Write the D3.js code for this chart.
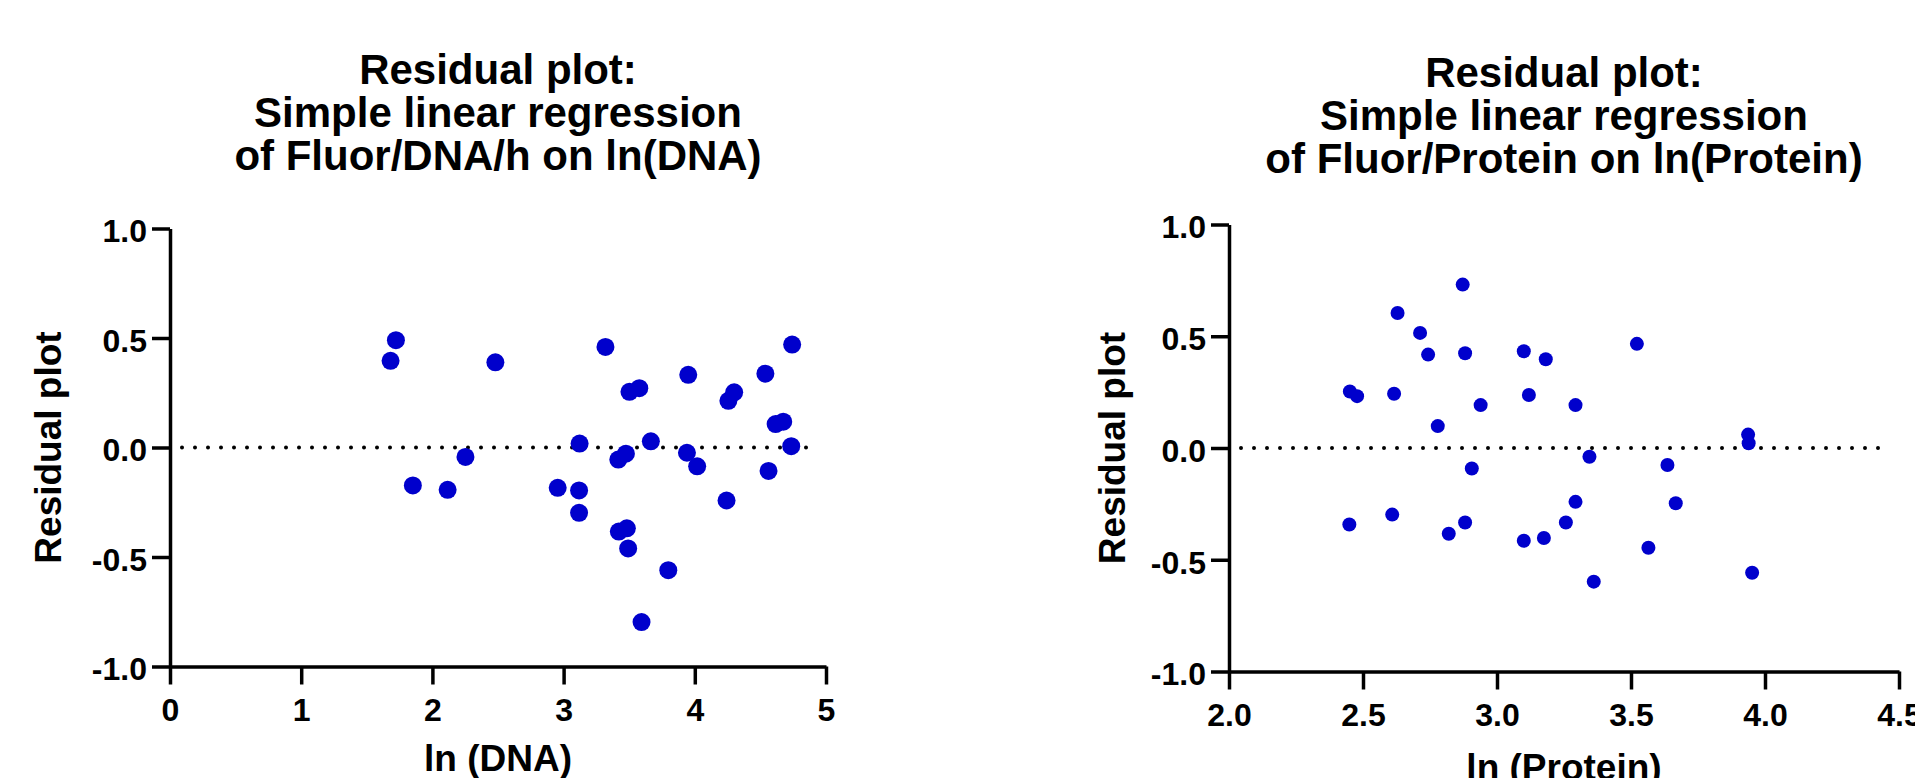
<!DOCTYPE html>
<html>
<head>
<meta charset="utf-8">
<script src="https://cdn.jsdelivr.net/npm/d3@7"></script>
<style>
  body { margin: 0; background: #fff; }
  svg { display: block; }
  text { font-family: "Liberation Sans", Arial, sans-serif; font-weight: bold; fill: #000; }
</style>
</head>
<body>
<script>

// left panel: residuals vs ln(DNA)
var dnaX = [1.681, 1.722, 1.851, 2.116, 2.252, 2.480, 2.955, 3.118, 3.118, 3.122, 3.319,
            3.421, 3.482, 3.492, 3.417, 3.475, 3.502, 3.577, 3.665, 3.594, 3.798, 3.950,
            3.940, 4.018, 4.242, 4.256, 4.300, 4.538, 4.562, 4.616, 4.674, 4.735, 4.742]
var dnaResid = [0.396, 0.490, -0.173, -0.193, -0.043, 0.389, -0.184, -0.196, -0.298, 0.018, 0.459,
                -0.384, -0.369, -0.461, -0.055, -0.028, 0.254, 0.271, 0.028, -0.797, -0.560, 0.332,
                -0.024, -0.086, -0.242, 0.213, 0.252, 0.337, -0.107, 0.107, 0.118, 0.006, 0.470]

// right panel: residuals vs ln(Protein)
var proteinX = [2.451, 2.478, 2.449, 2.616, 2.609, 2.629, 2.713, 2.743, 2.779, 2.820, 2.872,
                2.881, 2.881, 2.906, 2.939, 3.100, 3.100, 3.119, 3.175, 3.182, 3.257, 3.293,
                3.293, 3.345, 3.361, 3.522, 3.565, 3.636, 3.667, 3.937, 3.939, 3.952]
var proteinResid = [0.253, 0.232, -0.342, 0.243, -0.298, 0.604, 0.515, 0.418, 0.098, -0.384, 0.731,
                    0.424, -0.333, -0.092, 0.192, 0.433, -0.415, 0.237, -0.403, 0.397, -0.333, 0.192,
                    -0.241, -0.039, -0.598, 0.466, -0.446, -0.076, -0.247, 0.060, 0.021, -0.558]

// ticks and labels
var yTicks = [-1.0, -0.5, 0.0, 0.5, 1.0]
var dnaXTicks = [0, 1, 2, 3, 4, 5]
var proteinXTicks = [2.0, 2.5, 3.0, 3.5, 4.0, 4.5]
var dnaTitle = ["Residual plot:", "Simple linear regression", "of Fluor/DNA/h on ln(DNA)"]
var proteinTitle = ["Residual plot:", "Simple linear regression", "of Fluor/Protein on ln(Protein)"]

var width = 1915
var height = 778

var svg = d3.select("body").append("svg")
            .attr("width", width)
            .attr("height", height)

function drawPanel(opt) {
  var xs = opt.x, ys = opt.y

  var x = d3.scaleLinear().domain(opt.xDomain).range([opt.left, opt.right])
  var y = d3.scaleLinear().domain([-1, 1]).range([opt.bottom, opt.top])

  var g = svg.append("g")

  // title, three lines centred over the plot
  g.append("text")
    .attr("text-anchor", "middle")
    .style("font-size", "42px")
    .selectAll("tspan")
    .data(opt.title)
    .enter()
   .append("tspan")
    .attr("x", (opt.left + opt.right) / 2)
    .attr("y", function(d, i) {return opt.titleY + i * 43})
    .text(function(d) {return d})

  // zero line, dotted
  g.append("line")
    .attr("x1", x.range()[0] + 12)
    .attr("x2", x.range()[1] - 12)
    .attr("y1", y(0))
    .attr("y2", y(0))
    .attr("stroke", "#000")
    .attr("stroke-width", 4)
    .attr("stroke-linecap", "round")
    .attr("stroke-dasharray", "0 13")

  var yAxis = d3.axisLeft(y)
                .tickValues(yTicks)
                .tickSize(18)
                .tickSizeOuter(0)
                .tickPadding(5)
                .tickFormat(function(d) {return d.toFixed(1)})

  var xAxis = d3.axisBottom(x)
                .tickValues(opt.xTicks)
                .tickSize(18)
                .tickSizeOuter(0)
                .tickPadding(14)
                .tickFormat(opt.xFormat)

  var ya = g.append("g")
    .attr("transform", "translate(" + opt.left + ",0)")
    .call(yAxis)
  ya.selectAll("text").attr("dy", "0.42em")

  var xa = g.append("g")
    .attr("transform", "translate(0," + opt.bottom + ")")
    .call(xAxis)

  ;[ya, xa].forEach(function(a) {
    a.selectAll("path, line").attr("stroke", "#000").attr("stroke-width", 3.5)
    a.selectAll("text")
      .style("font-size", "32px")
      .style("font-family", "'Liberation Sans', Arial, sans-serif")
      .style("font-weight", "bold")
      .attr("fill", "#000")
  })

  // axis titles
  g.append("text")
    .attr("transform", "translate(" + opt.yLabelX + "," + ((opt.top + opt.bottom) / 2) + ") rotate(-90)")
    .attr("text-anchor", "middle")
    .attr("dy", "0.35em")
    .style("font-size", "37px")
    .text("Residual plot")

  g.append("text")
    .attr("x", (opt.left + opt.right) / 2)
    .attr("y", opt.xLabelY)
    .attr("text-anchor", "middle")
    .style("font-size", "37px")
    .text(opt.xLabel)

  // the points
  g.selectAll("circle")
    .data(d3.range(xs.length))
    .enter()
   .append("circle")
    .attr("cx", function(i) {return x(xs[i])})
    .attr("cy", function(i) {return y(ys[i])})
    .attr("r", opt.r)
    .attr("fill", "#0000cc")
}

drawPanel({
  x: dnaX, y: dnaResid, xDomain: [0, 5], xTicks: dnaXTicks,
  xFormat: function(d) {return d3.format("d")(d)},
  left: 170, right: 826, top: 228.5, bottom: 666.5,
  title: dnaTitle, titleY: 84, xLabel: "ln (DNA)", xLabelY: 771, yLabelX: 48, r: 9
})

drawPanel({
  x: proteinX, y: proteinResid, xDomain: [2, 4.5], xTicks: proteinXTicks,
  xFormat: function(d) {return d.toFixed(1)},
  left: 1229, right: 1899, top: 224.5, bottom: 671.5,
  title: proteinTitle, titleY: 87, xLabel: "ln (Protein)", xLabelY: 780, yLabelX: 1112, r: 7
})

</script>
</body>
</html>
